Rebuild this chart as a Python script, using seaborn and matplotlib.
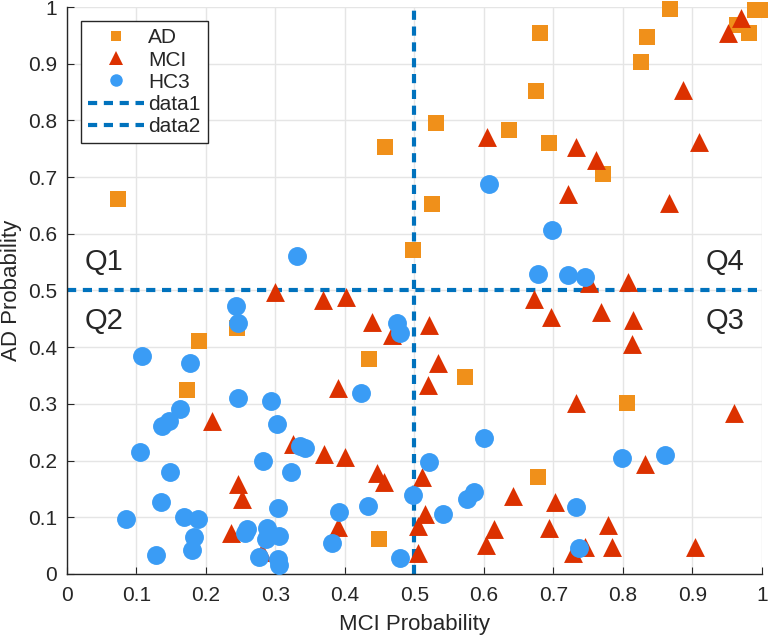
import pandas as pd
import seaborn as sns
import matplotlib.pyplot as plt
from matplotlib.lines import Line2D

# === DATA ===
ad_x = [0.073, 0.19, 0.173, 0.245, 0.458, 0.498, 0.525, 0.531, 0.573, 0.435, 0.449,
        0.636, 0.675, 0.681, 0.694, 0.771, 0.678, 0.806, 0.826, 0.835, 0.868,
        0.964, 0.981, 0.99, 1.0]
ad_y = [0.661, 0.411, 0.325, 0.434, 0.753, 0.571, 0.652, 0.795, 0.347, 0.379, 0.062,
        0.783, 0.852, 0.954, 0.760, 0.705, 0.171, 0.302, 0.903, 0.947, 0.996,
        0.968, 0.954, 0.995, 0.995]

mci_x = [0.299, 0.369, 0.401, 0.439, 0.468, 0.209, 0.325, 0.37, 0.4, 0.39, 0.446,
         0.456, 0.246, 0.252, 0.39, 0.236, 0.281,
         0.604, 0.732, 0.761, 0.886, 0.909, 0.721, 0.866, 0.807, 0.752, 0.672,
         0.521, 0.696, 0.768, 0.815, 0.813, 0.534, 0.519, 0.732, 0.96, 0.832,
         0.511, 0.642, 0.702, 0.516, 0.505, 0.614, 0.694, 0.779, 0.603, 0.746,
         0.728, 0.785, 0.904, 0.505, 0.97, 0.951]
mci_y = [0.497, 0.483, 0.489, 0.445, 0.422, 0.27, 0.229, 0.212, 0.206, 0.328, 0.178,
         0.162, 0.159, 0.132, 0.083, 0.072, 0.039,
         0.771, 0.753, 0.731, 0.854, 0.762, 0.671, 0.654, 0.515, 0.513, 0.485,
         0.439, 0.453, 0.462, 0.448, 0.406, 0.372, 0.333, 0.302, 0.284, 0.194,
         0.171, 0.138, 0.127, 0.106, 0.085, 0.079, 0.081, 0.086, 0.051, 0.048,
         0.037, 0.048, 0.048, 0.037, 0.98, 0.954]

hc_x = [0.331, 0.607, 0.698, 0.678, 0.721, 0.745, 0.244, 0.247, 0.475, 0.479,
        0.108, 0.177, 0.423, 0.246, 0.294, 0.163, 0.147, 0.137, 0.302, 0.106,
        0.335, 0.342, 0.282, 0.149, 0.322, 0.498, 0.135, 0.304, 0.391, 0.433,
        0.085, 0.168, 0.189, 0.259, 0.256, 0.288, 0.305, 0.183, 0.286, 0.381,
        0.18, 0.128, 0.277, 0.304, 0.305, 0.479, 0.6, 0.521, 0.799, 0.86,
        0.586, 0.576, 0.732, 0.541, 0.737]
hc_y = [0.56, 0.688, 0.607, 0.529, 0.527, 0.523, 0.473, 0.443, 0.443, 0.425,
        0.385, 0.372, 0.319, 0.31, 0.305, 0.291, 0.27, 0.261, 0.264, 0.215,
        0.226, 0.222, 0.199, 0.18, 0.18, 0.139, 0.127, 0.116, 0.109, 0.12,
        0.097, 0.1, 0.097, 0.079, 0.072, 0.081, 0.067, 0.066, 0.062, 0.055,
        0.042, 0.034, 0.03, 0.026, 0.016, 0.028, 0.24, 0.198, 0.205, 0.21,
        0.145, 0.132, 0.118, 0.106, 0.046]

groups = ["AD", "MCI", "HC3"]
colors = {"AD": "#F0901A", "MCI": "#DC3100", "HC3": "#3A9CF5"}
markers = {"AD": "s", "MCI": "^", "HC3": "o"}
sizes = {"AD": 125, "MCI": 185, "HC3": 185}

df = pd.concat([
    pd.DataFrame({"MCI": ad_x, "AD": ad_y, "group": "AD"}),
    pd.DataFrame({"MCI": mci_x, "AD": mci_y, "group": "MCI"}),
    pd.DataFrame({"MCI": hc_x, "AD": hc_y, "group": "HC3"}),
], ignore_index=True)

# === PLOT ===
sns.set_style("whitegrid")
plt.rcParams["font.family"] = ["Liberation Sans", "DejaVu Sans"]

fig = plt.figure(figsize=(7.68, 6.37), dpi=100)
ax = fig.add_axes([0.087, 0.099, 0.905, 0.89])

for g in groups:
    sns.scatterplot(data=df[df["group"] == g], x="MCI", y="AD", color=colors[g],
                    marker=markers[g], s=sizes[g], linewidth=0, ax=ax, legend=False,
                    zorder=3)
# markers at the edges are not clipped in the original
for coll in ax.collections:
    coll.set_clip_on(False)

dash_col = "#0072BD"
ax.axvline(0.5, color=dash_col, lw=3, ls=(0, (2.2, 1.6)), zorder=2)
ax.axhline(0.5, color=dash_col, lw=3, ls=(0, (2.2, 1.6)), zorder=2)

ax.set_xlim(0, 1)
ax.set_ylim(0, 1)
ax.set_xticks([i / 10 for i in range(11)])
ax.set_yticks([i / 10 for i in range(11)])
ax.set_xticklabels(["0", "0.1", "0.2", "0.3", "0.4", "0.5", "0.6", "0.7", "0.8", "0.9", "1"])
ax.set_yticklabels(["0", "0.1", "0.2", "0.3", "0.4", "0.5", "0.6", "0.7", "0.8", "0.9", "1"])
ax.tick_params(labelsize=15, colors="#262626", direction="in", length=5,
               left=True, bottom=True)
ax.tick_params(axis="x", pad=9)
ax.tick_params(axis="y", pad=7)
ax.grid(color="#E5E5E5", lw=1)
for side in ["top", "right"]:
    ax.spines[side].set_visible(False)
for side in ["left", "bottom"]:
    ax.spines[side].set_color("#262626")
    ax.spines[side].set_linewidth(1)
ax.set_xlabel("MCI Probability", fontsize=16, color="#262626", labelpad=6)
ax.set_ylabel("AD Probability", fontsize=16, color="#262626")
ax.yaxis.set_label_coords(-0.064, 0.5)

# quadrant labels
ax.text(0.025, 0.525, "Q1", fontsize=21, ha="left", va="bottom")
ax.text(0.025, 0.47, "Q2", fontsize=21, ha="left", va="top")
ax.text(0.975, 0.47, "Q3", fontsize=21, ha="right", va="top")
ax.text(0.975, 0.525, "Q4", fontsize=21, ha="right", va="bottom")

handles = [
    Line2D([], [], ls="", marker="s", color=colors["AD"], ms=7, mew=0),
    Line2D([], [], ls="", marker="^", color=colors["MCI"], ms=10, mew=0),
    Line2D([], [], ls="", marker="o", color=colors["HC3"], ms=9, mew=0),
    Line2D([], [], color=dash_col, lw=3, ls=(0, (2.2, 1.6))),
    Line2D([], [], color=dash_col, lw=3, ls=(0, (2.2, 1.6))),
]
leg = ax.legend(handles, ["AD", "MCI", "HC3", "data1", "data2"], loc="upper left",
                bbox_to_anchor=(0.02, 0.975), fontsize=15, frameon=True, fancybox=False,
                handlelength=2.7, handletextpad=0.2, borderpad=0.35, labelspacing=0.15,
                borderaxespad=0)
leg.get_frame().set_edgecolor("#262626")
leg.get_frame().set_linewidth(1)
leg.get_frame().set_alpha(1)

plt.savefig("out.png", dpi=100)
plt.close()
